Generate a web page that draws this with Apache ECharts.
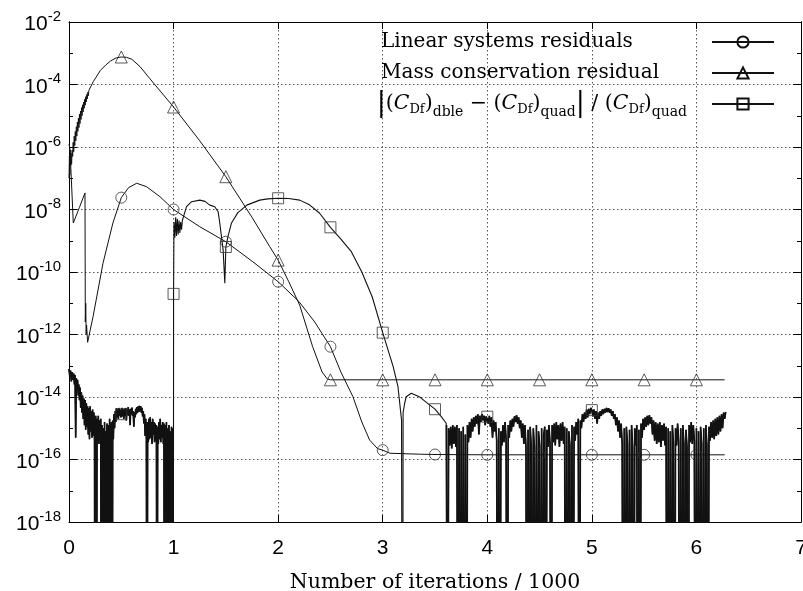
<!DOCTYPE html>
<html>
<head>
<meta charset="utf-8">
<title>Residuals vs iterations</title>
<script src="https://cdn.jsdelivr.net/npm/echarts@6/dist/echarts.min.js"></script>
<style>
  html, body { margin: 0; padding: 0; background: #fff; }
  #chart { width: 803px; height: 591px; }
</style>
</head>
<body>
<div id="chart"></div>
<script>
// Data: [iterations / 1000, log10(value)]
// null = exact zero, gnuplot drops those lines to the bottom of the frame

// Linear systems residuals (circles)
const linearRes = [
  [0, -5.9], [0.01, -6.1], [0.02, -6.85], [0.03, -7.6], [0.041, -8.43], [0.1, -7.93],
  [0.153, -7.47], [0.156, -11.6], [0.16, -11.0], [0.164, -12.0], [0.168, -11.7], [0.178, -12.25],
  [0.23, -11.43], [0.325, -9.72], [0.42, -8.43], [0.5, -7.62], [0.57, -7.3], [0.647, -7.16],
  [0.742, -7.27], [0.87, -7.59], [1.0, -8.0], [1.25, -8.55], [1.5, -9.03], [1.757, -9.67],
  [2.0, -10.31], [2.2, -10.95], [2.35, -11.6], [2.5, -12.39], [2.6, -13.2], [2.715, -13.99],
  [2.8, -14.8], [2.875, -15.38], [2.95, -15.65], [3.0, -15.7], [3.07, -15.8], [3.35, -15.83],
  [3.5, -15.84], [4.0, -15.85], [4.5, -15.85], [5.0, -15.85], [5.5, -15.85], [6.0, -15.85], [6.27, -15.85]
];

// Mass conservation residual (triangles)
const massRes = [
  [0, -7.0], [0.004, -6.3], [0.008, -6.9], [0.012, -6.1], [0.016, -6.6], [0.02, -6.2],
  [0.025, -6.55], [0.03, -6.1], [0.035, -6.3], [0.04, -5.85], [0.045, -6.15], [0.05, -5.65],
  [0.055, -5.95], [0.06, -5.5], [0.065, -5.8], [0.07, -5.35], [0.075, -5.65], [0.08, -5.2],
  [0.085, -5.5], [0.09, -5.08], [0.095, -5.38], [0.1, -4.95], [0.105, -5.25], [0.11, -4.85],
  [0.115, -5.12], [0.12, -4.74], [0.125, -5.0], [0.13, -4.65], [0.135, -4.88], [0.14, -4.56],
  [0.145, -4.76], [0.15, -4.47], [0.155, -4.66], [0.16, -4.39], [0.165, -4.56], [0.17, -4.32],
  [0.175, -4.46], [0.18, -4.25], [0.185, -4.36], [0.19, -4.19], [0.2, -4.13], [0.232, -3.91],
  [0.3, -3.55], [0.35, -3.38], [0.4, -3.24], [0.45, -3.15], [0.5, -3.12], [0.55, -3.13],
  [0.6, -3.19], [0.68, -3.43], [0.77, -3.8], [0.88, -4.24], [1.0, -4.72], [1.25, -5.8],
  [1.5, -6.95], [1.75, -8.25], [1.92, -9.19], [2.0, -9.62], [2.1, -10.3], [2.206, -11.06],
  [2.33, -12.39], [2.42, -13.2], [2.47, -13.42], [2.5, -13.45], [3.0, -13.45], [3.5, -13.45],
  [4.0, -13.45], [4.5, -13.45], [5.0, -13.45], [5.5, -13.45], [6.0, -13.45], [6.27, -13.45]
];

// |(CDf)dble - (CDf)quad| / (CDf)quad (squares): round-off noise up to 1000 iterations
const cdfEarly = [
  [0, -13.1], [0.008, -13.35], [0.015, -13.15], [0.022, -13.5], [0.03, -13.2], [0.038, -13.45],
  [0.045, -13.25], [0.052, -13.6], [0.058, -13.3], [0.064, -15.3],
  [0.07, -13.4], [0.076, -13.75], [0.082, -13.45], [0.088, -13.95], [0.094, -13.6], [0.1, -14.1],
  [0.106, -13.7], [0.112, -14.35], [0.118, -13.85], [0.124, -14.5], [0.13, -13.95], [0.136, -14.7],
  [0.142, -14.05], [0.148, -14.9], [0.154, -14.1], [0.16, -15.05], [0.166, -14.2], [0.172, -14.95],
  [0.178, -14.3], [0.184, -15.2], [0.19, -14.35], [0.196, -15.35], [0.202, -14.3], [0.208, -15.1],
  [0.214, -14.45], [0.22, -15.3], [0.226, -14.4], [0.232, -15.25], [0.238, -14.5], [0.244, -15.4],
  [0.25, null], [0.256, -14.6], [0.262, null], [0.268, -14.7], [0.274, -15.4], [0.28, -14.6],
  [0.286, -15.5], [0.292, -14.75], [0.298, -15.3], [0.304, -14.7], [0.31, null], [0.316, -14.9],
  [0.322, null], [0.328, -15.0], [0.334, null], [0.34, -14.8], [0.346, null], [0.352, -15.1],
  [0.358, -15.55], [0.364, -14.85], [0.37, null], [0.376, -14.9], [0.382, null], [0.388, -14.7],
  [0.394, -15.4], [0.4, null], [0.406, -14.8], [0.412, null], [0.418, -14.75], [0.424, -15.35],
  [0.43, -14.55], [0.436, -15.0], [0.442, -14.45], [0.448, -14.8], [0.454, -14.35], [0.46, -14.65],
  [0.466, -14.4], [0.472, -14.7], [0.478, -14.35], [0.484, -14.6], [0.49, -14.4], [0.496, -14.65],
  [0.5, -14.55], [0.506, -14.35], [0.512, -14.62], [0.518, -14.4], [0.524, -14.7], [0.53, -14.38],
  [0.536, -14.6], [0.542, -14.35], [0.548, -14.75], [0.554, -14.4], [0.56, -14.58], [0.566, -14.32],
  [0.572, -14.6], [0.578, -14.4], [0.584, -14.9], [0.59, -14.38], [0.596, -14.55], [0.602, -14.34],
  [0.608, -14.6], [0.614, -14.45], [0.62, -14.95], [0.626, -14.48], [0.632, -14.65], [0.638, -14.38],
  [0.644, -14.55], [0.65, -14.32], [0.656, -14.5], [0.662, -14.3], [0.668, -14.48], [0.674, -14.28],
  [0.68, -14.45], [0.686, -14.3], [0.692, -14.5], [0.698, -14.35], [0.704, -14.62], [0.71, -14.45],
  [0.716, -14.85], [0.722, -14.55], [0.728, -15.25], [0.734, -14.7], [0.74, -15.35], [0.746, null],
  [0.752, -14.8], [0.758, -15.45], [0.764, -14.7], [0.77, -15.35], [0.776, -14.65], [0.782, -15.3],
  [0.788, -14.8], [0.794, -15.5], [0.8, -14.7], [0.806, -15.2], [0.812, -14.8], [0.818, -15.45],
  [0.824, -14.85], [0.83, -15.4], [0.836, -14.9], [0.842, null], [0.848, -14.95], [0.854, -15.5],
  [0.86, -14.8], [0.866, -15.35], [0.872, -14.7], [0.878, -15.45], [0.884, -14.9], [0.89, -15.3],
  [0.896, -14.8], [0.902, -15.5], [0.908, -14.85], [0.914, null], [0.92, -14.9], [0.926, -15.45],
  [0.932, -14.8], [0.938, null], [0.944, -15.0], [0.95, -15.55], [0.956, -14.9], [0.962, null],
  [0.968, -15.1], [0.974, null], [0.98, -14.95], [0.986, -15.45], [0.992, -15.0], [0.997, null]
];

// same quantity, 1000 to 3600 iterations
const cdfMiddle = [
  [1.0, -10.7], [1.004, -8.4], [1.012, -8.9], [1.02, -8.25], [1.028, -8.85], [1.036, -8.3],
  [1.044, -8.8], [1.052, -8.35], [1.06, -8.75], [1.068, -8.4], [1.076, -8.65], [1.084, -8.35],
  [1.092, -8.34], [1.124, -7.91], [1.172, -7.75], [1.251, -7.7], [1.3, -7.74], [1.347, -7.86],
  [1.394, -7.91], [1.426, -8.07], [1.442, -8.44], [1.458, -8.87], [1.474, -9.3], [1.49, -10.36],
  [1.5, -9.2], [1.52, -8.87], [1.554, -8.43], [1.615, -8.1], [1.7, -7.86], [1.824, -7.7],
  [1.9, -7.66], [2.0, -7.64], [2.1, -7.65], [2.206, -7.7], [2.3, -7.85], [2.397, -8.12],
  [2.5, -8.57], [2.6, -8.95], [2.7, -9.35], [2.8, -10.0], [2.9, -10.8], [3.0, -11.94],
  [3.1, -13.03], [3.146, -13.67], [3.18, -14.74], [3.19, null], [3.195, -14.5], [3.21, -14.2],
  [3.225, -13.99], [3.273, -13.88], [3.35, -13.99], [3.42, -14.18], [3.5, -14.39], [3.56, -14.63],
  [3.607, -14.84]
];

// same quantity, round-off noise again after 3600 iterations
const cdfLate = [
  [3.61, -14.9], [3.62, null], [3.63, -15.0], [3.64, -15.55], [3.65, -14.95], [3.66, -15.65],
  [3.67, -14.9], [3.68, -15.5], [3.69, -14.95], [3.7, -15.6], [3.71, -14.9], [3.72, null],
  [3.73, -15.0], [3.74, null], [3.75, -15.1], [3.76, null], [3.77, -14.95], [3.78, null],
  [3.79, -15.2], [3.8, null], [3.81, -14.9], [3.82, -15.45], [3.83, -14.8], [3.84, -15.3],
  [3.85, -14.7], [3.86, -15.1], [3.87, -14.65], [3.88, -14.95], [3.89, -14.6], [3.9, -14.85],
  [3.91, -14.55], [3.92, -15.2], [3.93, -14.6], [3.94, -14.8], [3.95, -14.55], [3.96, -14.75],
  [3.97, -14.6], [3.98, -14.9], [3.99, -14.62], [4.0, -14.63], [4.01, -14.85], [4.02, -14.6],
  [4.03, -14.95], [4.04, -14.65], [4.05, -15.3], [4.06, -14.75], [4.07, -15.1], [4.08, -14.8],
  [4.09, -15.4], [4.1, null], [4.11, -15.0], [4.12, null], [4.13, -15.1], [4.14, -15.55],
  [4.15, -14.9], [4.16, -15.45], [4.17, -14.8], [4.18, -15.35], [4.19, null], [4.2, -14.9],
  [4.21, -15.3], [4.22, -14.75], [4.23, -15.1], [4.24, -14.7], [4.25, -14.95], [4.26, -14.62],
  [4.27, -14.8], [4.28, -14.58], [4.29, -14.85], [4.3, -14.65], [4.31, -15.0], [4.32, -14.75],
  [4.33, -15.3], [4.34, -14.85], [4.35, -15.5], [4.36, -14.9], [4.37, -15.6], [4.38, null],
  [4.39, -15.05], [4.4, null], [4.41, -14.95], [4.42, -15.55], [4.43, null], [4.44, -15.0],
  [4.45, -15.6], [4.46, null], [4.47, -14.9], [4.48, null], [4.49, -15.1], [4.5, -15.55],
  [4.51, null], [4.52, -15.0], [4.53, null], [4.54, -15.2], [4.55, -14.95], [4.56, null],
  [4.57, -15.05], [4.58, -15.6], [4.59, -14.9], [4.6, -15.5], [4.61, null], [4.62, -14.9],
  [4.63, -15.45], [4.64, -14.85], [4.65, -15.55], [4.66, -14.8], [4.67, -15.35], [4.68, -14.9],
  [4.69, -15.6], [4.7, -14.85], [4.71, -15.4], [4.72, -14.8], [4.73, -15.5], [4.74, -14.95],
  [4.75, null], [4.76, -15.0], [4.77, null], [4.78, -15.1], [4.79, -15.55], [4.8, null],
  [4.81, -14.9], [4.82, null], [4.83, -14.95], [4.84, -15.4], [4.85, -14.8], [4.86, -15.2],
  [4.87, -14.7], [4.88, null], [4.89, -14.75], [4.9, -15.0], [4.91, -14.55], [4.92, -14.8],
  [4.93, -14.5], [4.94, -14.7], [4.95, -14.4], [4.96, -14.65], [4.97, -14.38], [4.98, -14.55],
  [4.99, -14.35], [5.0, -14.42], [5.01, -14.62], [5.02, -14.4], [5.03, -14.7], [5.04, -14.45],
  [5.05, -14.85], [5.06, -14.5], [5.07, -14.7], [5.08, -14.45], [5.09, -14.6], [5.1, -14.4],
  [5.11, -14.55], [5.12, -14.38], [5.13, -14.5], [5.14, -14.35], [5.15, -14.48], [5.16, -14.36],
  [5.17, -14.5], [5.18, -14.4], [5.19, -14.6], [5.2, -14.45], [5.21, -14.7], [5.22, -14.55],
  [5.23, -14.9], [5.24, -14.65], [5.25, -15.1], [5.26, -14.75], [5.27, -15.3], [5.28, -14.85],
  [5.29, -15.5], [5.3, null], [5.31, -15.0], [5.32, null], [5.33, -14.95], [5.34, -15.5],
  [5.35, null], [5.36, -15.05], [5.37, null], [5.38, -14.9], [5.39, -15.6], [5.4, null],
  [5.41, -15.0], [5.42, -15.55], [5.43, -14.9], [5.44, null], [5.45, -15.05], [5.46, null],
  [5.47, -14.85], [5.48, -15.3], [5.49, -14.7], [5.5, -15.05], [5.51, -14.65], [5.52, -14.95],
  [5.53, -14.6], [5.54, -14.9], [5.55, -14.58], [5.56, -14.85], [5.57, -14.65], [5.58, -15.2],
  [5.59, -14.75], [5.6, -15.4], [5.61, -14.8], [5.62, -15.5], [5.63, -14.85], [5.64, -15.45],
  [5.65, -14.8], [5.66, -15.6], [5.67, -14.9], [5.68, -15.4], [5.69, -14.85], [5.7, -15.55],
  [5.71, -14.95], [5.72, null], [5.73, -15.0], [5.74, null], [5.75, -15.1], [5.76, null],
  [5.77, -14.9], [5.78, -15.5], [5.79, null], [5.8, -15.0], [5.81, -15.55], [5.82, -14.85],
  [5.83, -15.4], [5.84, null], [5.85, -15.0], [5.86, null], [5.87, -14.9], [5.88, -15.5],
  [5.89, null], [5.9, -15.05], [5.91, -15.6], [5.92, null], [5.93, -14.9], [5.94, -15.45],
  [5.95, -14.8], [5.96, -15.5], [5.97, -14.9], [5.98, -15.4], [5.99, null], [6.0, -15.0],
  [6.01, null], [6.02, -15.1], [6.03, null], [6.04, -14.95], [6.05, -15.5], [6.06, null],
  [6.07, -15.0], [6.08, null], [6.09, -14.9], [6.1, -15.55], [6.11, null], [6.12, -14.95],
  [6.13, -15.4], [6.14, -14.8], [6.15, -15.3], [6.16, -14.75], [6.17, -15.35], [6.18, -14.7],
  [6.19, -15.25], [6.2, -14.65], [6.21, -15.2], [6.22, -14.6], [6.23, -15.1], [6.24, -14.55],
  [6.25, -15.0], [6.26, -14.5], [6.27, -14.7], [6.28, -14.48]
];

// gnuplot put a point every 500 iterations
const markXs = [0.5, 1, 1.5, 2, 2.5, 3, 3.5, 4, 4.5, 5, 5.5, 6];
// the CDf points at 4.5, 5.5 and 6 were exact zeros, so not drawn
const cdfMarkXs = [0.5, 1, 1.5, 2, 2.5, 3, 3.5, 4, 5];

const NAME_LIN = 'Linear systems residuals';
const NAME_MASS = 'Mass conservation residual';
const NAME_CDF = '|(CDf)dble - (CDf)quad| / (CDf)quad';

const INK = '#111';
const SERIF = 'DejaVu Serif';
const SANS = 'Liberation Sans';

const cdfDiff = cdfEarly.concat(cdfMiddle, cdfLate);

// [x, log10] -> [x, value]; a zero goes far below the frame
function toPoints(d) {
  return d.map(p => [p[0], p[1] === null ? 1e-30 : Math.pow(10, p[1])]);
}

function pick(d, xs) {
  return xs.map(x => d.find(p => Math.abs(p[0] - x) < 1e-9)).filter(p => p && p[1] !== null);
}

function curve(name, d, sym, width) {
  return {
    name: name, type: 'line', data: toPoints(d),
    showSymbol: false, symbol: sym, symbolSize: 11,
    lineStyle: { color: INK, width: width },
    itemStyle: { color: 'transparent', borderColor: INK, borderWidth: 1 },
    silent: true, clip: true, animation: false, z: 3
  };
}

// the noisy stretches are so dense in the original they print almost solid
function noise(d) {
  return {
    type: 'line', data: toPoints(d), showSymbol: false,
    lineStyle: { color: INK, width: 1.7 },
    silent: true, clip: true, animation: false, z: 3
  };
}

function points(d, xs, sym, size) {
  return {
    type: 'scatter', data: toPoints(pick(d, xs)),
    symbol: sym, symbolSize: size,
    itemStyle: { color: 'transparent', borderColor: '#333', borderWidth: 1 },
    silent: true, animation: false, z: 4
  };
}

const chart = echarts.init(document.getElementById('chart'));

const dotted = { show: true, lineStyle: { color: '#555', width: 1, type: [1.5, 2.5] } };
const frame = { show: true, lineStyle: { color: '#000', width: 1 } };

function yAxisOf(pos, step, tickLen, withLabels) {
  return {
    type: 'log', logBase: 10, min: 1e-18, max: 1e-2, interval: step, position: pos,
    axisLine: frame,
    axisTick: { show: true, inside: true, length: tickLen, lineStyle: { color: '#000' } },
    axisLabel: withLabels ? {
      margin: 8, color: '#000',
      formatter: v => '{b|10}{s|' + Math.round(Math.log10(v)) + '}',
      rich: {
        b: { fontFamily: SANS, fontSize: 21, color: '#000', lineHeight: 26, verticalAlign: 'bottom' },
        s: { fontFamily: SANS, fontSize: 15, color: '#000', lineHeight: 15, verticalAlign: 'top' }
      }
    } : { show: false },
    splitLine: withLabels && pos === 'left' ? dotted : { show: false }
  };
}

function xAxisOf(pos, withLabels) {
  return {
    type: 'value', min: 0, max: 7, interval: 1, position: pos,
    axisLine: frame,
    axisTick: { show: true, inside: true, length: 7, lineStyle: { color: '#000' } },
    axisLabel: withLabels ? { margin: 16, color: '#000', fontFamily: SANS, fontSize: 21 } : { show: false },
    splitLine: withLabels ? dotted : { show: false },
    name: withLabels ? 'Number of iterations / 1000' : '',
    nameLocation: 'middle', nameGap: 50, nameMoveOverlap: false,
    nameTextStyle: { fontFamily: SERIF, fontSize: 20.5, color: '#000' }
  };
}

const CDF_RICH =
  '{bar||}{t|(}{c|C}{df|Df}{t|)}{sub|dble}{t| − (}{c|C}{df|Df}{t|)}{sub|quad}' +
  '{bar||}{t| / (}{c|C}{df|Df}{t|)}{sub|quad}{sp| }';

const option = {
  backgroundColor: '#fff',
  animation: false,
  grid: { left: 69, right: 2, top: 22, bottom: 69, containLabel: false, outerBoundsMode: 'none' },
  xAxis: [xAxisOf('bottom', true), xAxisOf('top', false)],
  yAxis: [
    yAxisOf('left', 2, 8, true),
    yAxisOf('left', 1, 4, false),
    yAxisOf('right', 2, 8, false),
    yAxisOf('right', 1, 4, false)
  ],
  legend: {
    orient: 'vertical', right: 28, top: 27, padding: 0, align: 'right',
    itemWidth: 62, itemHeight: 14, itemGap: 1, selectedMode: false,
    data: [NAME_LIN, NAME_MASS, NAME_CDF],
    formatter: name => name === NAME_CDF ? CDF_RICH : '{w|' + name + '}',
    textStyle: {
      color: '#000', fontFamily: SERIF, fontSize: 20, lineHeight: 30, height: 30,
      rich: {
        w: { fontFamily: SERIF, fontSize: 20, color: '#000', width: 326, align: 'left', lineHeight: 30 },
        t: { fontFamily: SERIF, fontSize: 20.5, color: '#000', lineHeight: 30, verticalAlign: 'middle' },
        c: { fontFamily: SERIF, fontSize: 20.5, color: '#000', fontStyle: 'italic', lineHeight: 30, verticalAlign: 'middle' },
        bar: { fontFamily: SERIF, fontSize: 27, color: '#000', lineHeight: 30, verticalAlign: 'middle' },
        df: { fontFamily: SERIF, fontSize: 13, color: '#000', lineHeight: 13, verticalAlign: 'middle', padding: [12, 0, 0, 0] },
        sub: { fontFamily: SERIF, fontSize: 14, color: '#000', lineHeight: 14, verticalAlign: 'middle', padding: [16, 0, 0, 0] },
        sp: { fontSize: 10, width: 20, lineHeight: 30 }
      }
    }
  },
  series: [
    curve(NAME_LIN, linearRes, 'circle', 1),
    curve(NAME_MASS, massRes, 'triangle', 1),
    curve(NAME_CDF, cdfDiff, 'rect', 1.1),
    noise(cdfEarly),
    noise(cdfLate),
    points(linearRes, markXs, 'circle', 11),
    points(massRes, markXs, 'triangle', 12),
    points(cdfDiff, cdfMarkXs, 'rect', 11)
  ]
};

chart.setOption(option);
</script>
</body>
</html>
